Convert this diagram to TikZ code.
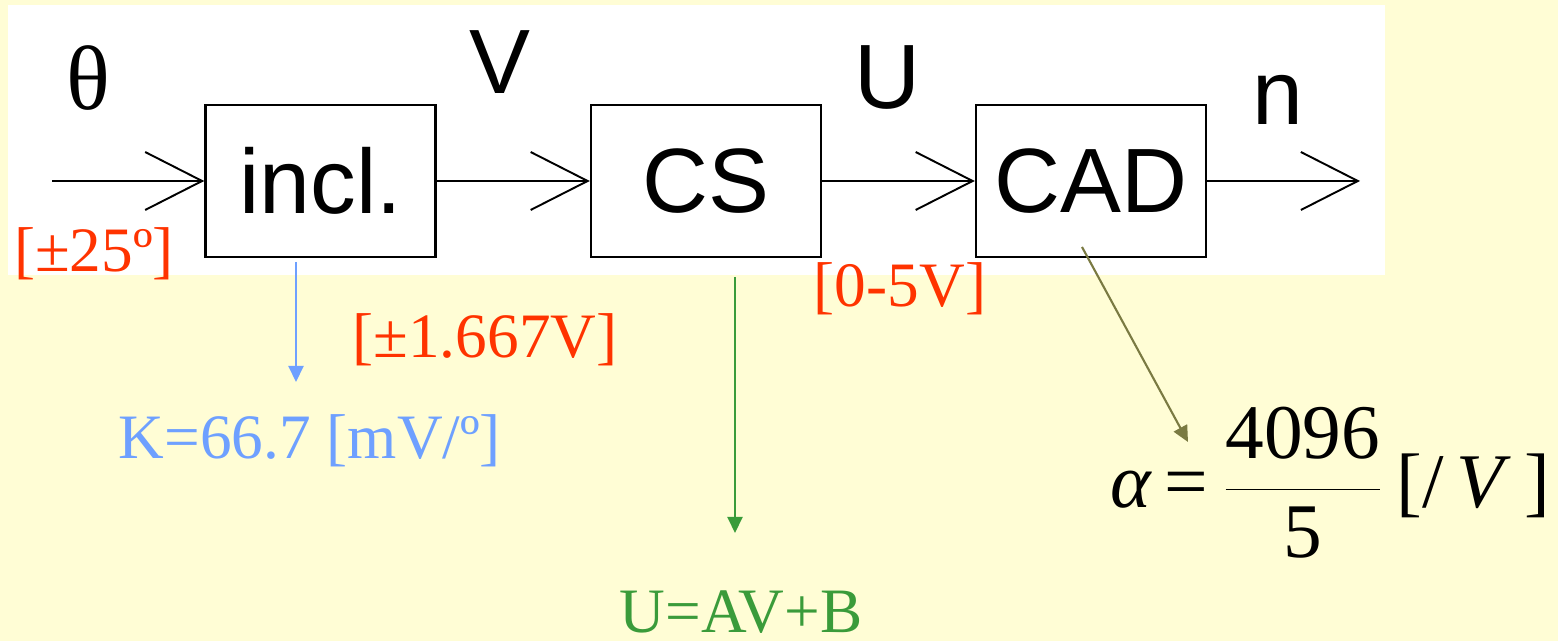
\documentclass[tikz,border=0pt]{standalone}
\usepackage{fontspec}
\setmainfont{Liberation Serif}
\newfontfamily\arialfont{Liberation Sans}
\usetikzlibrary{arrows.meta}

\definecolor{bgyellow}{RGB}{255,253,213}
\definecolor{rangered}{RGB}{255,51,0}
\definecolor{gainblue}{RGB}{110,160,255}
\definecolor{csgreen}{RGB}{58,155,58}
\definecolor{cadolive}{RGB}{122,122,66}

\begin{document}
\begin{tikzpicture}[
    block/.style={draw, line width=0.7pt, fill=white, minimum width=2.3cm, minimum height=1.52cm,
        font=\arialfont\fontsize{26}{28}\selectfont},
    signal/.style={-{Straight Barb[length=0.57cm, width=0.58cm]}, line width=0.55pt},
    siglabel/.style={font=\arialfont\fontsize{26}{28}\selectfont},
    rangelabel/.style={text=rangered, font=\fontsize{18}{20}\selectfont, inner sep=0pt},
    note/.style={-{Triangle[length=0.16cm, width=0.15cm]}, line width=0.6pt},
]
    \useasboundingbox (0,0) rectangle (15.58,6.41);
    % Background and the white panel behind the chain
    \fill[bgyellow] (0,0) rectangle (15.58,6.41);
    \fill[white] (0.08,3.66) rectangle (13.85,6.36);

    % Blocks of the chain
    \node[block] (incl) at (3.205,4.60) {incl.};
    \node[block] (cs) at (7.06,4.60) {CS};
    \node[block] (cad) at (10.91,4.60) {CAD};

    % Signals between the blocks
    \coordinate (in) at (0.52,4.60);
    \coordinate (out) at (13.60,4.60);
    \draw[signal] (in) -- (incl.west);
    \draw[signal] (incl) -- (cs);
    \draw[signal] (cs) -- (cad);
    \draw[signal] (cad.east) -- (out);

    % Signal names
    \node[font=\fontsize{26}{28}\selectfont] (theta) at (0.88,5.63) {θ};
    \node[siglabel] (vlab) at (5.00,5.79) {V};
    \node[siglabel] (ulab) at (8.87,5.63) {U};
    \node[siglabel] (nlab) at (12.78,5.41) {n};

    % Ranges in red
    \node[rangelabel] (r25) at (0.94,3.87) {[±25º]};
    \node[rangelabel] (r1667) at (4.85,3.01) {[±1.667V]};
    \node[rangelabel] (r05) at (9.00,3.52) {[0-5V]};

    % Sensor gain, in blue
    \coordinate (ktop) at (2.96,3.79);
    \coordinate (kfoot) at (2.96,2.59);
    \draw[note, gainblue] (ktop) -- (kfoot);
    \node[text=gainblue, font=\fontsize{18}{20}\selectfont] (gain) at (3.10,2.00) {K=66.7 [mV/º]};

    % Conditioning law, in green
    \coordinate (utop) at (7.35,3.64);
    \coordinate (ufoot) at (7.35,1.08);
    \draw[note, csgreen] (utop) -- (ufoot);
    \node[text=csgreen, font=\fontsize{18}{20}\selectfont] (law) at (7.41,0.29) {U=AV+B};

    % Converter factor
    \coordinate (atop) at (10.82,3.94);
    \coordinate (afoot) at (11.88,1.99);
    \draw[note, cadolive] (atop) -- (afoot);
    \node[font=\fontsize{22}{25}\selectfont, inner sep=0pt] (alpha) at (13.30,1.58)
        {$\displaystyle\mbox{\textit{α}\,=\,}\frac{\mbox{4096}}{\mbox{5}}\,\mbox{[/\,\textit{V}\,]}$};
\end{tikzpicture}
\end{document}
